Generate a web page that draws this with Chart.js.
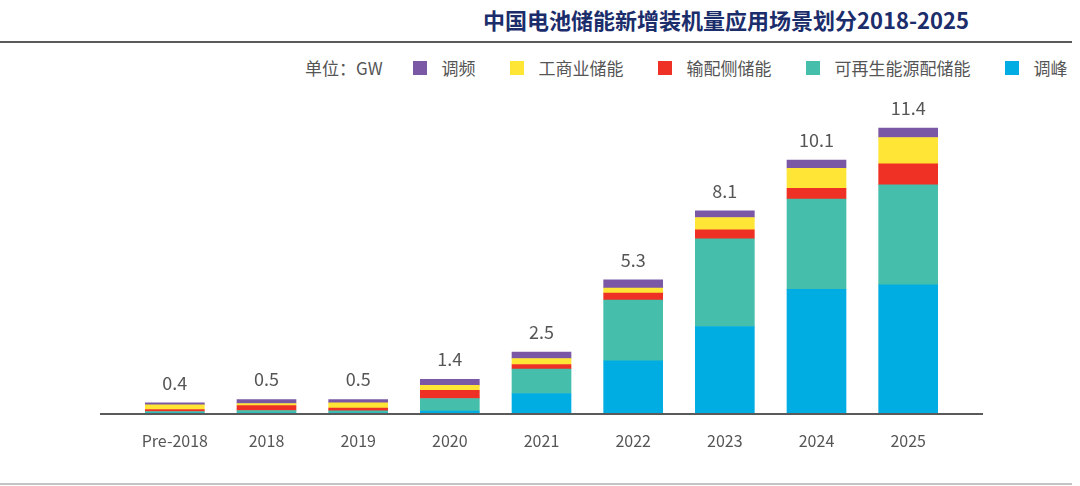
<!DOCTYPE html>
<html>
<head>
<meta charset="utf-8">
<script src="https://cdn.jsdelivr.net/npm/chart.js@4.4.1/dist/chart.umd.min.js"></script>
<style>
  html, body { margin: 0; padding: 0; background: #fff; }
  body { width: 1080px; height: 486px; position: relative; overflow: hidden;
         font-family: "Noto Sans CJK SC", "Noto Sans", sans-serif; }
  #title { position: absolute; left: 483px; top: 3px; font-size: 22px; font-weight: bold;
           color: #1b2d6b; white-space: nowrap; line-height: 32px; letter-spacing: 0; }
  #topline { position: absolute; left: 0; top: 41px; width: 1072px; height: 2px; background: #5a5a5a; }
  #bottomline { position: absolute; left: 0; top: 483px; width: 1072px; height: 2px; background: #c4c4c4; }
  #legend { position: absolute; left: 305px; top: 56px; display: flex; align-items: center;
            font-size: 17px; color: #555; white-space: nowrap; line-height: 24px; }
  #legend .unit { margin-right: 30px; }
  #legend .item { display: flex; align-items: center; margin-right: 34px; }
  #legend .item:last-child { margin-right: 0; }
  #legend .sw { width: 14px; height: 14px; margin-right: 15px; }
  #wrap { position: absolute; left: 0; top: 0; width: 1080px; height: 486px; }
</style>
</head>
<body>
<div id="title">中国电池储能新增装机量应用场景划分2018-2025</div>
<div id="topline"></div>
<div id="legend"></div>
<div id="wrap"><canvas id="c"></canvas></div>
<div id="bottomline"></div>
<script>
// ---- data ----
const categories = ['Pre-2018', '2018', '2019', '2020', '2021', '2022', '2023', '2024', '2025'];
const totals     = ['0.4', '0.5', '0.5', '1.4', '2.5', '5.3', '8.1', '10.1', '11.4'];
const peakShaving   = [0.00, 0.00, 0.00, 0.08, 0.78, 2.09, 3.46, 4.95, 5.13]; // 调峰
const renewables    = [0.06, 0.10, 0.09, 0.50, 0.98, 2.43, 3.51, 3.61, 4.00]; // 可再生能源配储能
const gridSide      = [0.08, 0.20, 0.11, 0.33, 0.18, 0.28, 0.36, 0.43, 0.84]; // 输配侧储能
const commercial    = [0.19, 0.08, 0.21, 0.20, 0.24, 0.20, 0.49, 0.80, 1.05]; // 工商业储能
const freqReg       = [0.08, 0.16, 0.13, 0.24, 0.26, 0.33, 0.27, 0.33, 0.38]; // 调频
const unitLabel = '单位：GW';

const datasets = [
  { label: '调峰', data: peakShaving, backgroundColor: '#00ade2' },
  { label: '可再生能源配储能', data: renewables, backgroundColor: '#45bfab' },
  { label: '输配侧储能', data: gridSide, backgroundColor: '#ee3124' },
  { label: '工商业储能', data: commercial, backgroundColor: '#ffe536' },
  { label: '调频', data: freqReg, backgroundColor: '#7b58a6' }
];

// ---- legend (HTML, reversed order) ----
const lg = document.getElementById('legend');
const u = document.createElement('span'); u.className = 'unit'; u.textContent = unitLabel; lg.appendChild(u);
datasets.slice().reverse().forEach(d => {
  const it = document.createElement('span'); it.className = 'item';
  const sw = document.createElement('span'); sw.className = 'sw'; sw.style.background = d.backgroundColor;
  const tx = document.createElement('span'); tx.textContent = d.label;
  it.appendChild(sw); it.appendChild(tx); lg.appendChild(it);
});

const extras = {
  id: 'extras',
  afterDatasetsDraw(chart) {
    const ctx = chart.ctx, ca = chart.chartArea;
    const y0 = chart.scales.y.getPixelForValue(0);
    ctx.save();
    ctx.strokeStyle = '#5a5a5a'; ctx.lineWidth = 2;
    ctx.beginPath(); ctx.moveTo(ca.left - 29, y0 + 1); ctx.lineTo(ca.right + 29, y0 + 1); ctx.stroke();
    const top = chart.getDatasetMeta(datasets.length - 1);
    ctx.fillStyle = '#555'; ctx.font = '18px "Noto Sans CJK SC", "Noto Sans", sans-serif';
    ctx.textAlign = 'center'; ctx.textBaseline = 'bottom';
    top.data.forEach((el, i) => { ctx.fillText(totals[i], el.x, el.y - 11); });
    ctx.restore();
  }
};

new Chart(document.getElementById('c'), {
  type: 'bar',
  data: { labels: categories, datasets: datasets.map(d => Object.assign({ borderWidth: 0, barThickness: 59 }, d)) },
  options: {
    responsive: true, maintainAspectRatio: false, animation: false,
    layout: { padding: { top: 113, left: 129, right: 126, bottom: 0 } },
    plugins: { legend: { display: false }, tooltip: { enabled: false } },
    scales: {
      x: { stacked: true, grid: { display: false, drawTicks: false }, border: { display: false },
           ticks: { color: '#555', padding: 18, font: { size: 16, family: '"Noto Sans CJK SC", "Noto Sans", sans-serif' } },
           afterFit: s => { s.height = 73; } },
      y: { stacked: true, display: false, min: 0, max: 12 }
    }
  },
  plugins: [extras]
});
</script>
</body>
</html>
